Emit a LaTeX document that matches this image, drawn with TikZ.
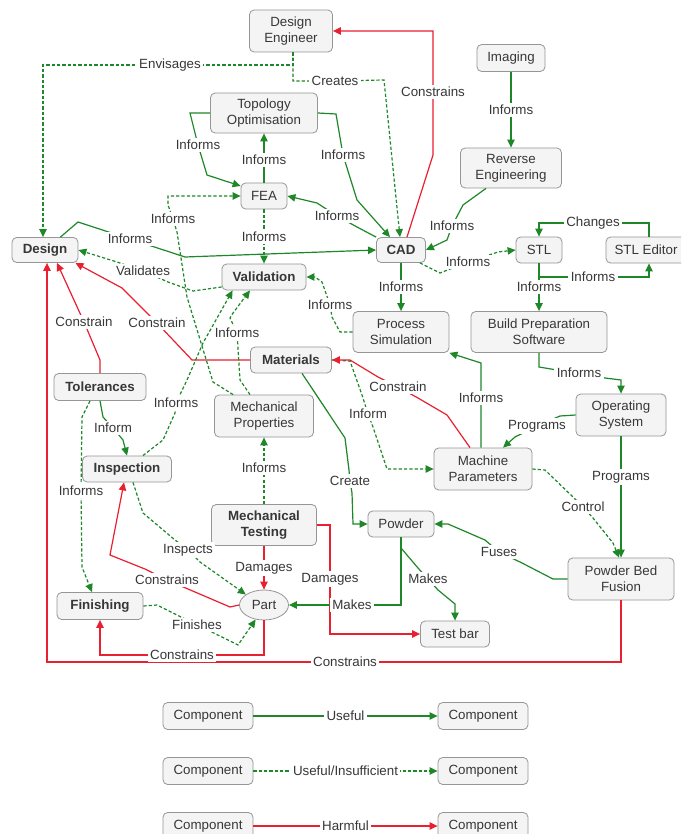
\documentclass[tikz,border=0pt]{standalone}
\usepackage{fontspec}
\setmainfont{Liberation Sans}
\usetikzlibrary{arrows.meta,shapes.geometric,calc}
\definecolor{gr}{RGB}{30,135,40}
\definecolor{rd}{RGB}{232,32,48}
\definecolor{bxfill}{RGB}{244,244,244}
\definecolor{bxdraw}{RGB}{150,150,150}
\definecolor{txt}{RGB}{55,55,55}
\tikzset{
 box/.style={draw=bxdraw, fill=bxfill, rounded corners=3.5pt, line width=0.6pt, align=center,
   font=\fontsize{10}{12}\selectfont, text=txt, inner sep=1pt},
 bbox/.style={box, font=\fontsize{10}{12}\selectfont\bfseries},
 sz/.style 2 args={minimum width=#1*0.75pt, minimum height=#2*0.75pt},
 lbl/.style={fill=white, inner sep=1.8pt, font=\fontsize{10}{11}\selectfont, text=txt},
 good/.style={draw=gr, line width=0.9pt, -{Triangle[length=6pt,width=5.5pt]}},
 weak/.style={good, dash pattern=on 2.4pt off 1.6pt},
 harm/.style={draw=rd, line width=0.9pt, -{Triangle[length=6pt,width=5.5pt]}},
}
\begin{document}
\begin{tikzpicture}[x=0.75pt,y=-0.75pt]
\useasboundingbox (0,0) rectangle (681,834);
\fill[white] (0,0) rectangle (681,834);
\clip (0,0) rectangle (681,834);

% nodes
\node[box,sz={83}{42}] (DE) at (291,31) {Design\\Engineer};
\node[box,sz={68}{27}] (IM) at (511,58) {Imaging};
\node[box,sz={101}{40}] (RE) at (511,168) {Reverse\\Engineering};
\node[box,sz={107}{40}] (TO) at (264,113) {Topology\\Optimisation};
\node[box,sz={46}{26}] (FEA) at (264,196) {FEA};
\node[bbox,sz={66}{25}] (Design) at (45,250) {Design};
\node[bbox,sz={49}{25}] (CAD) at (401,250) {CAD};
\node[box,sz={46}{26}] (STL) at (539,250) {STL};
\node[box,sz={80}{26}] (STLE) at (646,250) {STL Editor};
\node[bbox,sz={84}{26}] (Val) at (264,277) {Validation};
\node[box,sz={96}{41}] (PS) at (401,332) {Process\\Simulation};
\node[box,sz={136}{41}] (BPS) at (539,332) {Build Preparation\\Software};
\node[bbox,sz={81}{26}] (Mat) at (291,360) {Materials};
\node[bbox,sz={92}{27}] (Tol) at (100,387) {Tolerances};
\node[box,sz={99}{42}] (MechP) at (264,416) {Mechanical\\Properties};
\node[box,sz={90}{42}] (OS) at (621,415) {Operating\\System};
\node[bbox,sz={89}{26}] (Insp) at (127,469) {Inspection};
\node[box,sz={98}{42}] (MachP) at (483,469) {Machine\\Parameters};
\node[bbox,sz={105}{41}] (MT) at (264,525) {Mechanical\\Testing};
\node[box,sz={66}{26}] (Powder) at (401,524) {Powder};
\node[box,sz={106}{42}] (PBF) at (621,579) {Powder Bed\\Fusion};
\node[bbox,sz={86}{27}] (Fin) at (100,606) {Finishing};
\node[box,ellipse,sz={49}{30}] (Part) at (264,605) {Part};
\node[box,sz={69}{26}] (TB) at (455,634) {Test bar};

% connectors
\draw[harm] ($(CAD.north)+(6,0)$) -- (433,155) -- (433,92) node[lbl] (l1) {Constrains} -- (433,31) -- (DE.east);
\draw[weak] ($(DE.south)+(2,0)$) -- (293,65) -- (170,65) node[lbl] (l2) {Envisages} -- (43,65) -- ($(Design.north)+(-2,0)$);
\draw[weak] ($(DE.south)+(2,0)$) -- (293,81) -- (335,81) node[lbl] (l3) {Creates} -- (384,80) -- ($(CAD.north)+(-1,0)$);
\draw[good] (IM.south) -- (511,110) node[lbl] (l4) {Informs} -- (RE.north);
\draw[good] ($(RE.south)+(-25,0)$) -- (463,205) -- (452,226) node[lbl] (l5) {Informs} -- (447,240) -- (CAD.east);
\draw[good] (TO.east) -- (336,114) -- (343,155) node[lbl] (l6) {Informs} -- (357,200) -- ($(CAD.north)+(-11,0)$);
\draw[good] (TO.west) -- (190,113) -- (198,145) node[lbl] (l7) {Informs} -- (207,175) -- ($(FEA.west)+(0,-10)$);
\draw[good] (FEA.north) -- (264,160) node[lbl] (l8) {Informs} -- (TO.south);
\draw[good] (CAD.north west) -- (357,227) -- (337,216) node[lbl] (l9) {Informs} -- (317,203) -- (FEA.east);
\draw[weak] (FEA.south) -- (264,237) node[lbl] (l10) {Informs} -- (Val.north);
\draw[good] ($(Design.north east)+(-18,0)$) -- (78,222) -- (130,239) node[lbl] (l11) {Informs} -- (185,257) -- (CAD.west);
\draw[weak] ($(Val.west)+(0,10)$) -- (193,291) -- (168,282) -- (143,271) node[lbl] (l12) {Validates} -- (117,262) -- (Design.east);
\draw[harm] (Mat.west) -- (192,360) -- (157,323) node[lbl] (l13) {Constrain} -- (122,288) -- ($(Design.south east)+(-3,0)$);
\draw[harm] (Tol.north) -- (100,360) -- (84,322) node[lbl] (l14) {Constrain} -- ($(Design.south)+(12,0)$);
\draw[harm] (PBF.south) -- (621,662) -- (345,662) node[lbl] (l15) {Constrains} -- (47,662) -- ($(Design.south)+(2,0)$);
\draw[harm] (Part.south) -- (264,655) -- (182,655) node[lbl] (l16) {Constrains} -- (100,655) -- (Fin.south);
\draw[harm] (Part.west) -- (230,607) -- (167,580) node[lbl] (l17) {Constrains} -- (145,569) -- (110,555) -- ($(Insp.south)+(-3,0)$);
\draw[weak] ($(Insp.south)+(6,0)$) -- (143,513) -- (175,540) -- (188,550) node[lbl] (l18) {Inspects} -- (200,562) -- (Part.150);
\draw[weak] (Fin.east) -- (157,605) -- (173,613) -- (197,625) node[lbl] (l19) {Finishes} -- (222,637) -- (238,645) -- (Part.240);
\draw[harm] (MT.south) -- (264,568) node[lbl] (l20) {Damages} -- (Part.north);
\draw[harm] (MT.east) -- (330,525) -- (330,579) node[lbl] (l21) {Damages} -- (330,634) -- (TB.west);
\draw[weak] (MT.north) -- (264,468) node[lbl] (l22) {Informs} -- (MechP.south);
\draw[good] (Powder.south) -- (401,548) -- (418,568) -- (428,579) node[lbl] (l24) {Makes} -- (438,590) -- (455,604) -- (TB.north);
\draw[good] (Powder.south) -- (401,605) -- (352,605) node[lbl] (l23) {Makes} -- (Part.east);
\draw[good] (PBF.west) -- (553,579) -- (522,563) -- (499,552) node[lbl] (l25) {Fuses} -- (485,540) -- (448,524) -- (Powder.east);
\draw[good] (OS.south) -- (621,477) node[lbl] (l26) {Programs} -- (PBF.north);
\draw[good] (OS.west) -- (560,416) -- (537,426) node[lbl] (l27) {Programs} -- (515,437) -- ($(MachP.north)+(20,0)$);
\draw[weak] (MachP.east) -- (545,470) -- (573,497) -- (583,507) node[lbl] (l28) {Control} -- (593,518) -- (613,543) -- ($(PBF.north)+(-2,0)$);
\draw[good] ($(MachP.north)+(-2,0)$) -- (481,398) node[lbl] (l29) {Informs} -- (481,363) -- (PS.south east);
\draw[weak] (Mat.east) -- (350,361) -- (362,395) -- (368,414) node[lbl] (l31) {Inform} -- (373,427) -- (387,469) -- (MachP.west);
\draw[harm] ($(MachP.north)+(-13,0)$) -- (447,415) -- (418,398) -- (398,387) node[lbl] (l30) {Constrain} -- (378,377) -- (350,360) -- (Mat.east);
\draw[good] ($(Mat.south)+(11,0)$) -- (345,438) -- (349,470) -- (350,481) node[lbl] (l32) {Create} -- (352,493) -- (353,524) -- (Powder.west);
\draw[weak] ($(MechP.north west)+(19,0)$) -- (213,382) -- (187,297) -- (177,232) -- (173,219) node[lbl] (l33) {Informs} -- (168,205) -- (168,196) -- (FEA.west);
\draw[weak] ($(MechP.north)+(-14,0)$) -- (240,380) -- (237,333) node[lbl] (l34) {Informs} -- (230,318) -- (233,313) -- ($(Val.south)+(-14,0)$);
\draw[weak] ($(Insp.north east)+(-29,0)$) -- (163,440) -- (175,413) -- (176,403) node[lbl] (l35) {Informs} -- (187,380) -- (203,343) -- ($(Val.south west)+(11,0)$);
\draw[good] (Tol.south) -- (103,417) -- (113,428) node[lbl] (l36) {Inform} -- (123,440) -- (Insp.north);
\draw[weak] ($(Tol.south)+(-10,0)$) -- (82,417) -- (81,491) node[lbl] (l37) {Informs} -- (82,567) -- ($(Fin.north)+(-8,0)$);
\draw[weak] (PS.west) -- (340,332) -- (332,317) -- (330,305) node[lbl] (l38) {Informs} -- (322,282) -- (315,277) -- (Val.east);
\draw[good] (CAD.south) -- (401,287) node[lbl] (l39) {Informs} -- (PS.north);
\draw[weak] ($(CAD.south east)+(-6,0)$) -- (440,273) -- (468,262) node[lbl] (l40) {Informs} -- (498,252) -- (STL.west);
\draw[good] (STL.south) -- (539,277) -- (593,277) node[lbl] (l41) {Informs} -- (649,277) -- ($(STLE.south)+(3,0)$);
\draw[good] ($(STLE.north)+(3,0)$) -- (649,223) -- (593,223) node[lbl] (l42) {Changes} -- (539,223) -- (STL.north);
\draw[good] (STL.south) -- (539,287) node[lbl] (l43) {Informs} -- (BPS.north);
\draw[good] (BPS.south) -- (539,367) -- (557,370) -- (579,373) node[lbl] (l44) {Informs} -- (605,378) -- (621,380) -- (OS.north);

% legend
\node[box,sz={90}{27}] (La) at (208,716) {Component};
\node[box,sz={90}{27}] (Lb) at (483,716) {Component};
\node[box,sz={90}{27}] (Lc) at (208,771) {Component};
\node[box,sz={90}{27}] (Ld) at (483,771) {Component};
\node[box,sz={90}{27}] (Le) at (208,826) {Component};
\node[box,sz={90}{27}] (Lf) at (483,826) {Component};
\draw[good] (La) -- node[lbl] (m1) {Useful} (Lb);
\draw[weak] (Lc) -- node[lbl] (m2) {Useful/Insufficient} (Ld);
\draw[harm] (Le) -- node[lbl] (m3) {Harmful} (Lf);
\end{tikzpicture}
\end{document}
